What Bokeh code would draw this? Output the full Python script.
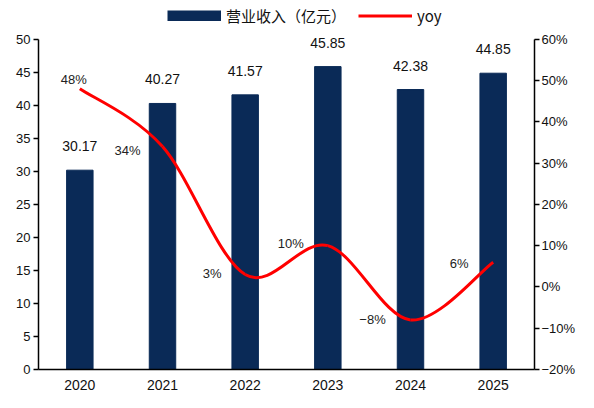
from bokeh.plotting import figure
from bokeh.models import Range1d, LinearAxis, FixedTicker, Legend, LegendItem, ColumnDataSource
from bokeh.core.properties import value
from bokeh.embed import file_html
from bokeh.resources import INLINE

# ---- data ----
years = ["2020", "2021", "2022", "2023", "2024", "2025"]
revenue = [30.17, 40.27, 41.57, 45.85, 42.38, 44.85]
yoy = [48, 34, 3, 10, -8, 6]
revenue_labels = ["30.17", "40.27", "41.57", "45.85", "42.38", "44.85"]
yoy_labels = ["48%", "34%", "3%", "10%", "\u22128%", "6%"]
left_ticks = [0, 5, 10, 15, 20, 25, 30, 35, 40, 45, 50]
right_ticks = [-20, -10, 0, 10, 20, 30, 40, 50, 60]
right_tick_labels = ["\u221220%", "\u221210%", "0%", "10%", "20%", "30%", "40%", "50%", "60%"]

# label offsets (screen px) for yoy labels
yoy_dx = [-6, -35, -33, -37, -38, -34]
yoy_dy = [-9, 4, -1, -2, 0, 1]

xs = list(range(len(years)))

FONT = "Liberation Sans"
NAVY = "#0A2A57"
RED = "#FF0000"

# left axis spans 0..50, right axis -20..60%; frame extended above for legend/labels
L_MIN, L_MAX = 0, 50
R_MIN, R_MAX = -20, 60
L_TOP = 55.25
R_TOP = R_MIN + (R_MAX - R_MIN) * (L_TOP - L_MIN) / (L_MAX - L_MIN)

p = figure(width=578, height=392, x_range=Range1d(-0.5, 5.5), y_range=Range1d(L_MIN, L_TOP),
           output_backend="svg", toolbar_location=None,
           min_border_left=38, min_border_right=40, min_border_top=4, min_border_bottom=20)
p.outline_line_color = None
p.grid.visible = False
p.extra_y_ranges = {"yoy": Range1d(R_MIN, R_TOP)}

bar_src = ColumnDataSource(dict(x=xs, top=revenue, lab=revenue_labels))
bars = p.vbar(x="x", top="top", width=0.32, source=bar_src, fill_color=NAVY, line_color=NAVY)
p.text(x="x", y="top", text="lab", source=bar_src, text_align="center", text_baseline="middle",
       y_offset=-24, text_font=value(FONT), text_font_size="14px", text_color="#111111")

# smooth curve (Catmull-Rom -> cubic Bezier)
n = len(xs)
x0, y0, x1, y1, cx0, cy0, cx1, cy1 = [], [], [], [], [], [], [], []
for i in range(n - 1):
    pm = i - 1 if i > 0 else i
    pp = i + 2 if i + 2 < n else i + 1
    x0.append(xs[i]); y0.append(yoy[i])
    x1.append(xs[i + 1]); y1.append(yoy[i + 1])
    cx0.append(xs[i] + (xs[i + 1] - xs[pm]) / 6.0)
    cy0.append(yoy[i] + (yoy[i + 1] - yoy[pm]) / 6.0)
    cx1.append(xs[i + 1] - (xs[pp] - xs[i]) / 6.0)
    cy1.append(yoy[i + 1] - (yoy[pp] - yoy[i]) / 6.0)
curve = p.bezier(x0=x0, y0=y0, x1=x1, y1=y1, cx0=cx0, cy0=cy0, cx1=cx1, cy1=cy1,
                 line_color=RED, line_width=3, y_range_name="yoy")

yoy_src = ColumnDataSource(dict(x=xs, y=yoy, lab=yoy_labels, dx=yoy_dx, dy=yoy_dy))
p.text(x="x", y="y", text="lab", source=yoy_src, x_offset="dx", y_offset="dy",
       y_range_name="yoy", text_align="center", text_baseline="middle",
       text_font=value(FONT), text_font_size="13px", text_color="#222222")

# legend swatch for bars (a non-drawing line, only used for the legend key)
bar_key = p.line(x=[0.0, 0.0], y=[float("nan"), float("nan")], line_color=NAVY, line_width=11)

# axes
p.xaxis.ticker = FixedTicker(ticks=xs)
p.xaxis.major_label_overrides = {i: y for i, y in enumerate(years)}
p.xaxis.major_tick_line_color = None
p.xaxis.minor_tick_line_color = None
p.xaxis.major_label_standoff = 4

p.yaxis.ticker = FixedTicker(ticks=left_ticks)
p.yaxis.bounds = (L_MIN, L_MAX)
p.yaxis.major_tick_out = 5
p.yaxis.major_tick_in = 0
p.yaxis.minor_tick_line_color = None
p.yaxis.major_tick_line_color = "black"
p.yaxis.major_label_standoff = 3

ry = LinearAxis(y_range_name="yoy", ticker=FixedTicker(ticks=right_ticks), bounds=(R_MIN, R_MAX),
                major_label_overrides={t: l for t, l in zip(right_ticks, right_tick_labels)})
ry.major_tick_out = 5
ry.major_tick_in = 0
ry.minor_tick_line_color = None
ry.major_tick_line_color = "black"
ry.major_label_standoff = 2
p.add_layout(ry, "right")

for ax in [p.xaxis[0], p.yaxis[0], ry]:
    ax.axis_line_color = "black"
    ax.axis_line_width = 1.5
    ax.major_tick_line_width = 1.5
    ax.major_label_text_font = FONT
    ax.major_label_text_font_size = "13px"
    ax.major_label_text_color = "#111111"
p.xaxis.major_label_text_font_size = "14px"

legend = Legend(items=[LegendItem(label="营业收入（亿元）", renderers=[bar_key]),
                       LegendItem(label="yoy", renderers=[curve])],
                orientation="horizontal", location=(127, 341),
                glyph_width=54, glyph_height=11, label_standoff=5, spacing=12,
                padding=2, margin=0, border_line_alpha=0, background_fill_alpha=0,
                label_text_font="Noto Sans CJK SC", label_text_font_size="15px",
                label_text_color="#111111")
p.add_layout(legend)

open("out.html", "w").write(file_html(p, INLINE))
